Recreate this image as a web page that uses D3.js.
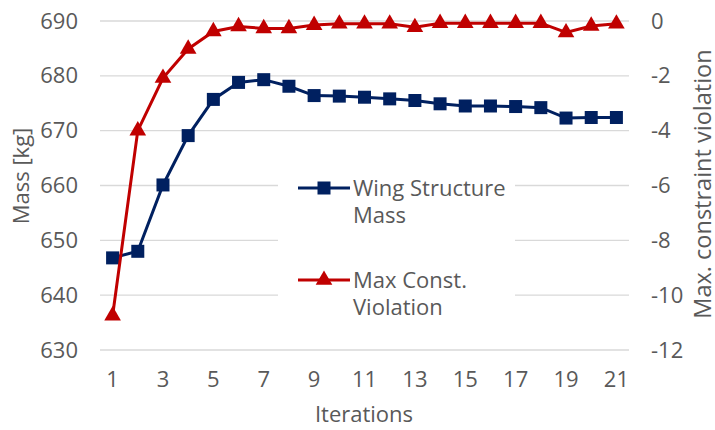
<!DOCTYPE html>
<html>
<head>
<meta charset="utf-8">
<script src="https://cdn.jsdelivr.net/npm/d3@7"></script>
<style>
  body { margin: 0; background: #fff; }
  text { font-family: "Open Sans", sans-serif; fill: #595959; }
</style>
</head>
<body>
<div id="chart"></div>
<script>
var iterations = d3.range(1, 22);
var massValues = [646.8, 648.0, 660.1, 669.1, 675.7, 678.8, 679.3, 678.1, 676.4, 676.3,
                  676.1, 675.8, 675.5, 674.9, 674.5, 674.5, 674.4, 674.2, 672.3, 672.4, 672.4];
var violationValues = [-10.75, -4.0, -2.08, -1.02, -0.38, -0.2, -0.27, -0.27, -0.15, -0.1,
                       -0.1, -0.1, -0.23, -0.08, -0.08, -0.08, -0.08, -0.08, -0.42, -0.18, -0.1];
var massTicks = [630, 640, 650, 660, 670, 680, 690];
var violationTicks = [-12, -10, -8, -6, -4, -2, 0];
var xTickLabels = [1, 3, 5, 7, 9, 11, 13, 15, 17, 19, 21];

var width = 715, height = 430;
var margin = { top: 21, left: 100, bottom: 80, right: 86 };
var fontSize = "22px";

var svg = d3.select("#chart").append("svg")
   .attr("width", width)
   .attr("height", height);

var xScale = d3.scaleBand()
   .domain(iterations)
   .range([margin.left, width - margin.right]);

var yLeft = d3.scaleLinear()
   .domain([630, 690])
   .range([height - margin.bottom, margin.top]);

var yRight = d3.scaleLinear()
   .domain([-12, 0])
   .range([height - margin.bottom, margin.top]);

function cx(d, i) { return xScale(iterations[i]) + xScale.bandwidth() / 2; }

// gridlines
svg.append("g")
   .selectAll("line")
   .data(massTicks)
   .enter().append("line")
   .attr("x1", margin.left)
   .attr("x2", width - margin.right)
   .attr("y1", function (d) { return yLeft(d); })
   .attr("y2", function (d) { return yLeft(d); })
   .attr("stroke", "#d9d9d9")
   .attr("stroke-width", 1.3);

// left axis
var gLeft = svg.append("g")
   .attr("transform", "translate(" + (margin.left - 22) + ",0)")
   .call(d3.axisLeft(yLeft).tickValues(massTicks).tickSize(0).tickPadding(0));
gLeft.select(".domain").remove();
gLeft.selectAll("text").style("font-size", fontSize).attr("fill", "#595959");

// right axis
var gRight = svg.append("g")
   .attr("transform", "translate(" + (width - margin.right + 22) + ",0)")
   .call(d3.axisRight(yRight).tickValues(violationTicks).tickSize(0).tickPadding(0)
      .tickFormat(function (d) { return d < 0 ? "-" + Math.abs(d) : d; }));
gRight.select(".domain").remove();
gRight.selectAll("text").style("font-size", fontSize).attr("fill", "#595959");

// x axis
var gX = svg.append("g")
   .attr("transform", "translate(0," + (height - margin.bottom + 30) + ")")
   .call(d3.axisBottom(xScale).tickValues(xTickLabels).tickSize(0).tickPadding(0));
gX.select(".domain").remove();
gX.selectAll("text").style("font-size", fontSize).attr("fill", "#595959").attr("dy", "0.32em");

// axis titles
svg.append("text")
   .attr("transform", "translate(21,176) rotate(-90)")
   .attr("text-anchor", "middle")
   .attr("dy", "0.35em")
   .style("font-size", fontSize)
   .text("Mass [kg]");

svg.append("text")
   .attr("transform", "translate(703,184) rotate(-90)")
   .attr("text-anchor", "middle")
   .attr("dy", "0.35em")
   .style("font-size", "23.5px")
   .text("Max. constraint violation");

svg.append("text")
   .attr("x", 364)
   .attr("y", 414)
   .attr("text-anchor", "middle")
   .attr("dy", "0.35em")
   .style("font-size", fontSize)
   .text("Iterations");

// lines
var massLine = d3.line()
   .x(cx)
   .y(function (d) { return yLeft(d); });

var violLine = d3.line()
   .x(cx)
   .y(function (d) { return yRight(d); });

svg.append("path")
   .datum(massValues)
   .attr("fill", "none")
   .attr("stroke", "#002060")
   .attr("stroke-width", 3)
   .attr("d", massLine);

svg.selectAll(".sq")
   .data(massValues)
   .enter().append("rect")
   .attr("class", "sq")
   .attr("x", function (d, i) { return cx(d, i) - 6.5; })
   .attr("y", function (d) { return yLeft(d) - 6.5; })
   .attr("width", 13)
   .attr("height", 13)
   .attr("fill", "#002060");

svg.append("path")
   .datum(violationValues)
   .attr("fill", "none")
   .attr("stroke", "#c00000")
   .attr("stroke-width", 3)
   .attr("d", violLine);

var tri = d3.symbol().type(d3.symbolTriangle).size(120);
svg.selectAll(".tri")
   .data(violationValues)
   .enter().append("path")
   .attr("class", "tri")
   .attr("d", tri)
   .attr("transform", function (d, i) { return "translate(" + cx(d, i) + "," + yRight(d) + ")"; })
   .attr("fill", "#c00000");

// legend
var legend = svg.append("g");
legend.append("rect")
   .attr("x", 278).attr("y", 145)
   .attr("width", 237).attr("height", 190)
   .attr("fill", "#fff");

var legendItems = [
   { lines: ["Wing Structure", "Mass"], y: 188, color: "#002060", marker: "square" },
   { lines: ["Max Const.", "Violation"], y: 280, color: "#c00000", marker: "triangle" }
];

legendItems.forEach(function (it) {
   legend.append("line")
      .attr("x1", 298).attr("x2", 350)
      .attr("y1", it.y).attr("y2", it.y)
      .attr("stroke", it.color).attr("stroke-width", 3);
   if (it.marker === "square") {
      legend.append("rect")
         .attr("x", 317.5).attr("y", it.y - 6.5)
         .attr("width", 13).attr("height", 13)
         .attr("fill", it.color);
   } else {
      legend.append("path")
         .attr("d", tri)
         .attr("transform", "translate(324," + it.y + ")")
         .attr("fill", it.color);
   }
   // two-line legend label
   var label = legend.append("text")
      .attr("x", 353)
      .attr("y", it.y)
      .attr("dy", "0.35em")
      .style("font-size", fontSize);
   it.lines.forEach(function (t, k) {
      label.append("tspan")
         .attr("x", 353)
         .attr("dy", k === 0 ? "0.35em" : "27px")
         .text(t);
   });
});
</script>
</body>
</html>
